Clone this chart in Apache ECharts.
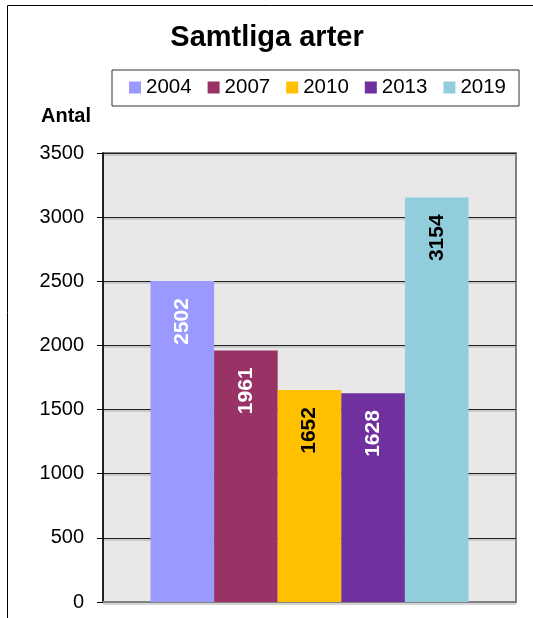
<!DOCTYPE html>
<html>
<head>
<meta charset="utf-8">
<script src="https://cdn.jsdelivr.net/npm/echarts@6/dist/echarts.min.js"></script>
<style>
html, body { margin: 0; padding: 0; background: #fff; }
#main { width: 533px; height: 618px; }
</style>
</head>
<body>
<div id="main"></div>
<script>
var years = ['2004', '2007', '2010', '2013', '2019'];
var counts = [2502, 1961, 1652, 1628, 3154];
var yTicks = [0, 500, 1000, 1500, 2000, 2500, 3000, 3500];

var barColors = ['#9999ff', '#993366', '#ffc000', '#7030a0', '#92cddc'];
var labelColors = ['#fff', '#fff', '#000', '#fff', '#000'];
var font = 'Arial, "Liberation Sans", sans-serif';

var series = years.map(function (y, i) {
  return {
    name: y,
    type: 'bar',
    data: [counts[i]],
    barGap: '0%',
    barCategoryGap: '23%',
    itemStyle: { color: barColors[i] },
    label: {
      show: true,
      position: 'insideTop',
      rotate: 90,
      align: 'right',
      verticalAlign: 'middle',
      distance: 17,
      color: labelColors[i],
      fontFamily: font,
      fontWeight: 'bold',
      fontSize: 21
    }
  };
});

var myChart = echarts.init(document.getElementById('main'));
myChart.setOption({
  animation: false,
  title: {
    text: 'Samtliga arter',
    left: 262,
    textAlign: 'center',
    top: 18,
    textStyle: { fontFamily: font, fontWeight: 'bold', fontSize: 29, color: '#000' }
  },
  legend: {
    data: years,
    left: 112,
    top: 70,
    padding: [7, 13, 8, 17],
    borderColor: '#333',
    borderWidth: 1,
    itemWidth: 12,
    itemHeight: 12,
    itemGap: 16,
    icon: 'rect',
    textStyle: { fontFamily: font, fontSize: 20.5, color: '#000' }
  },
  grid: {
    left: 103,
    right: 17,
    top: 153,
    bottom: 16,
    show: true,
    backgroundColor: '#e8e8e8',
    borderColor: '#808080',
    borderWidth: 2
  },
  xAxis: {
    type: 'category',
    data: [''],
    axisLine: { lineStyle: { color: '#808080', width: 2 } },
    axisTick: { show: false },
    axisLabel: { show: false }
  },
  yAxis: {
    type: 'value',
    min: yTicks[0],
    max: yTicks[yTicks.length - 1],
    interval: 500,
    name: 'Antal',
    nameLocation: 'end',
    nameGap: 37,
    nameTextStyle: {
      fontFamily: font, fontWeight: 'bold', fontSize: 20, color: '#000',
      align: 'right', verticalAlign: 'middle', padding: [0, 12, 0, 0]
    },
    axisLine: { show: true, lineStyle: { color: '#000', width: 1.5 } },
    axisTick: { show: true, length: 6, lineStyle: { color: '#000' } },
    axisLabel: {
      margin: 19, fontFamily: font, fontSize: 20, color: '#000',
      formatter: function (v) { return String(v); }
    },
    splitLine: { lineStyle: { color: '#222', width: 1, shadowColor: '#aaa', shadowOffsetY: 1.5 } }
  },
  graphic: [{
    type: 'rect',
    shape: { x: 7.5, y: 5.5, width: 540, height: 640 },
    style: { fill: 'none', stroke: '#000', lineWidth: 1 },
    silent: true
  }],
  series: series
});
</script>
</body>
</html>
